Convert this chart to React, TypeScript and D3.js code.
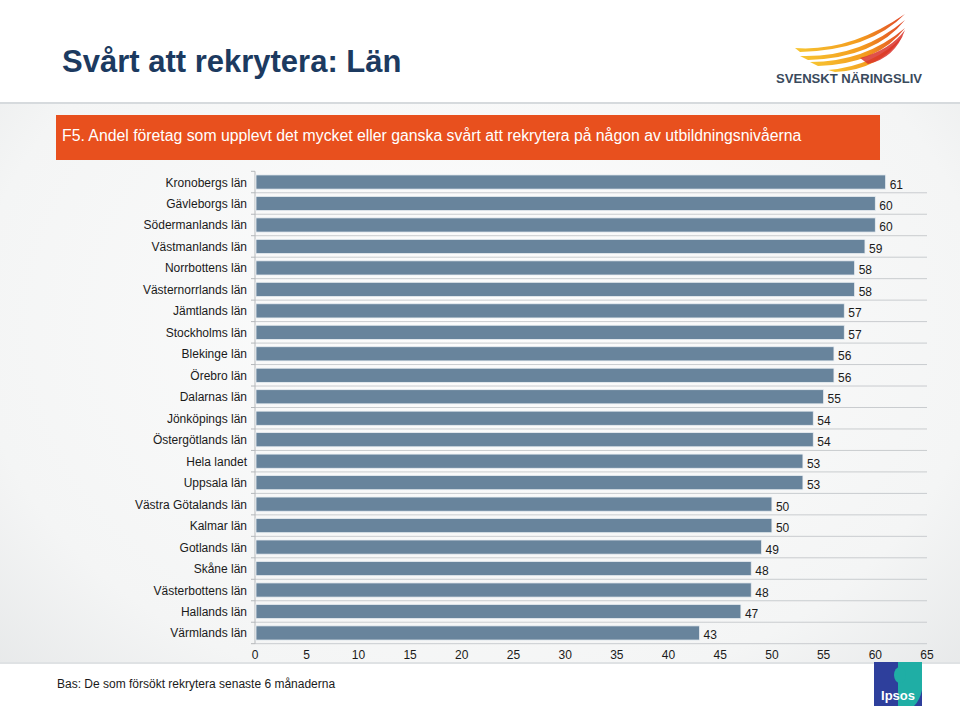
import React, { useEffect, useRef } from "react";
import * as d3 from "d3";

const categories = [
  "Kronobergs län", "Gävleborgs län", "Södermanlands län", "Västmanlands län",
  "Norrbottens län", "Västernorrlands län", "Jämtlands län", "Stockholms län",
  "Blekinge län", "Örebro län", "Dalarnas län", "Jönköpings län",
  "Östergötlands län", "Hela landet", "Uppsala län", "Västra Götalands län",
  "Kalmar län", "Gotlands län", "Skåne län", "Västerbottens län",
  "Hallands län", "Värmlands län",
];
const values = [61, 60, 60, 59, 58, 58, 57, 57, 56, 56, 55, 54, 54, 53, 53, 50, 50, 49, 48, 48, 47, 43];
const xTicks = [0, 5, 10, 15, 20, 25, 30, 35, 40, 45, 50, 55, 60, 65];

const title = "Svårt att rekrytera: Län";
const subtitle = "F5. Andel företag som upplevt det mycket eller ganska svårt att rekrytera på någon av utbildningsnivåerna";
const footnote = "Bas: De som försökt rekrytera senaste 6 månaderna";

export default function App() {
  const ref = useRef<SVGSVGElement>(null);

  useEffect(() => {
    const svg = d3.select(ref.current);
    svg.selectAll("*").remove();
    const W = 960, H = 720;
    const font = "Liberation Sans, Arial, sans-serif";

    const defs = svg.append("defs");
    const bg = defs.append("radialGradient").attr("id", "bg").attr("cx", "50%").attr("cy", "45%").attr("r", "75%");
    bg.append("stop").attr("offset", "0%").attr("stop-color", "#fdfdfd");
    bg.append("stop").attr("offset", "70%").attr("stop-color", "#f4f5f5");
    bg.append("stop").attr("offset", "100%").attr("stop-color", "#e3e5e6");

    const wing = defs.append("linearGradient").attr("id", "wing").attr("x1", "0%").attr("x2", "100%");
    wing.append("stop").attr("offset", "0%").attr("stop-color", "#f7c531");
    wing.append("stop").attr("offset", "60%").attr("stop-color", "#f39a1e");
    wing.append("stop").attr("offset", "100%").attr("stop-color", "#e0452a");

    svg.append("rect").attr("width", W).attr("height", H).attr("fill", "url(#bg)");
    svg.append("rect").attr("width", W).attr("height", 103).attr("fill", "#ffffff");
    svg.append("line").attr("x1", 0).attr("x2", W).attr("y1", 103).attr("y2", 103)
      .attr("stroke", "#d6dadd").attr("stroke-width", 2);

    svg.append("text").attr("x", 62).attr("y", 72).text(title)
      .attr("font-family", font).attr("font-size", 31).attr("font-weight", "bold").attr("fill", "#1c3a60");

    // Svenskt Näringsliv logo
    const lg = svg.append("g");
    const wings = [
      "M795,48 Q850,52 905,14 Q870,50 800,52 Z",
      "M800,56 Q860,58 905,20 Q875,58 808,60 Z",
      "M810,62 Q865,62 905,28 Q878,64 818,66 Z",
      "M828,70 Q875,66 903,36 Q880,70 835,72 Z",
    ];
    wings.forEach((d) => lg.append("path").attr("d", d).attr("fill", "url(#wing)"));
    lg.append("path").attr("d", "M860,58 Q890,50 905,30 Q895,58 868,64 Z").attr("fill", "#d9322b").attr("opacity", 0.85);
    lg.append("text").attr("x", 776).attr("y", 83).text("SVENSKT NÄRINGSLIV")
      .attr("font-family", font).attr("font-size", 13.5).attr("font-weight", "bold").attr("fill", "#3a4a5c")
      .attr("textLength", 146).attr("lengthAdjust", "spacingAndGlyphs");

    // orange banner
    svg.append("rect").attr("x", 56).attr("y", 115).attr("width", 824).attr("height", 45).attr("fill", "#e8501e");
    svg.append("text").attr("x", 62).attr("y", 141).text(subtitle)
      .attr("font-family", font).attr("font-size", 15.8).attr("fill", "#ffffff");

    // chart
    const x = d3.scaleLinear().domain([0, 65]).range([255, 927]);
    const y = d3.scaleBand().domain(categories).range([171.3, 643.7]).paddingInner(0.34).paddingOuter(0.17);
    const step = y.step();
    const bandTop = (c: string) => 171.3 + categories.indexOf(c) * step;

    const g = svg.append("g");
    categories.forEach((c) => {
      const yy = bandTop(c) + step;
      g.append("line").attr("x1", x(0)).attr("x2", x(65)).attr("y1", yy).attr("y2", yy)
        .attr("stroke", "#c9cccf").attr("stroke-width", 1);
      g.append("line").attr("x1", x(0) - 4).attr("x2", x(0)).attr("y1", yy).attr("y2", yy)
        .attr("stroke", "#b5b8bb").attr("stroke-width", 1);
    });
    g.append("line").attr("x1", x(0) - 4).attr("x2", x(0)).attr("y1", 171.3).attr("y2", 171.3)
      .attr("stroke", "#b5b8bb");
    g.append("line").attr("x1", x(0)).attr("x2", x(0)).attr("y1", 171.3).attr("y2", 643.7)
      .attr("stroke", "#b5b8bb").attr("stroke-width", 1);

    categories.forEach((c, i) => {
      const by = y(c)!;
      g.append("rect").attr("x", x(0) + 1).attr("y", by).attr("width", x(values[i]) - x(0) - 1)
        .attr("height", y.bandwidth()).attr("fill", "#68849c")
        .attr("stroke", "#e9eef2").attr("stroke-width", 0.8);
      g.append("text").attr("x", x(values[i]) + 4).attr("y", by + y.bandwidth() / 2 + 6.5)
        .text(values[i]).attr("font-family", font).attr("font-size", 12).attr("fill", "#1a1a1a");
      g.append("text").attr("x", 247).attr("y", by + y.bandwidth() / 2 + 4.5)
        .attr("text-anchor", "end").text(c)
        .attr("font-family", font).attr("font-size", 12).attr("fill", "#1a1a1a");
    });

    xTicks.forEach((t) => {
      g.append("text").attr("x", x(t)).attr("y", 659).attr("text-anchor", "middle").text(t)
        .attr("font-family", font).attr("font-size", 12).attr("fill", "#1a1a1a");
    });

    // bottom band
    svg.append("line").attr("x1", 0).attr("x2", W).attr("y1", 663).attr("y2", 663)
      .attr("stroke", "#dfe2e4").attr("stroke-width", 2);
    svg.append("rect").attr("x", 0).attr("y", 664).attr("width", W).attr("height", 56).attr("fill", "#ffffff");
    svg.append("text").attr("x", 57).attr("y", 688).text(footnote)
      .attr("font-family", font).attr("font-size", 12).attr("fill", "#1a1a1a");

    // Ipsos logo
    const ip = svg.append("g");
    ip.append("rect").attr("x", 874).attr("y", 662).attr("width", 48).attr("height", 44).attr("fill", "#2e3f9c");
    ip.append("path").attr("d", "M898,662 L922,662 L922,690 Q920,700 914,706 L898,706 Z").attr("fill", "#1faea5");
    ip.append("ellipse").attr("cx", 900).attr("cy", 675).attr("rx", 6).attr("ry", 8).attr("fill", "#1faea5");
    ip.append("text").attr("x", 898).attr("y", 700).attr("text-anchor", "middle").text("Ipsos")
      .attr("font-family", font).attr("font-size", 13).attr("font-weight", "bold").attr("fill", "#ffffff");
  }, []);

  return (
    <svg ref={ref} width={960} height={720}
      style={{ position: "absolute", left: 0, top: 0, display: "block" }} />
  );
}
